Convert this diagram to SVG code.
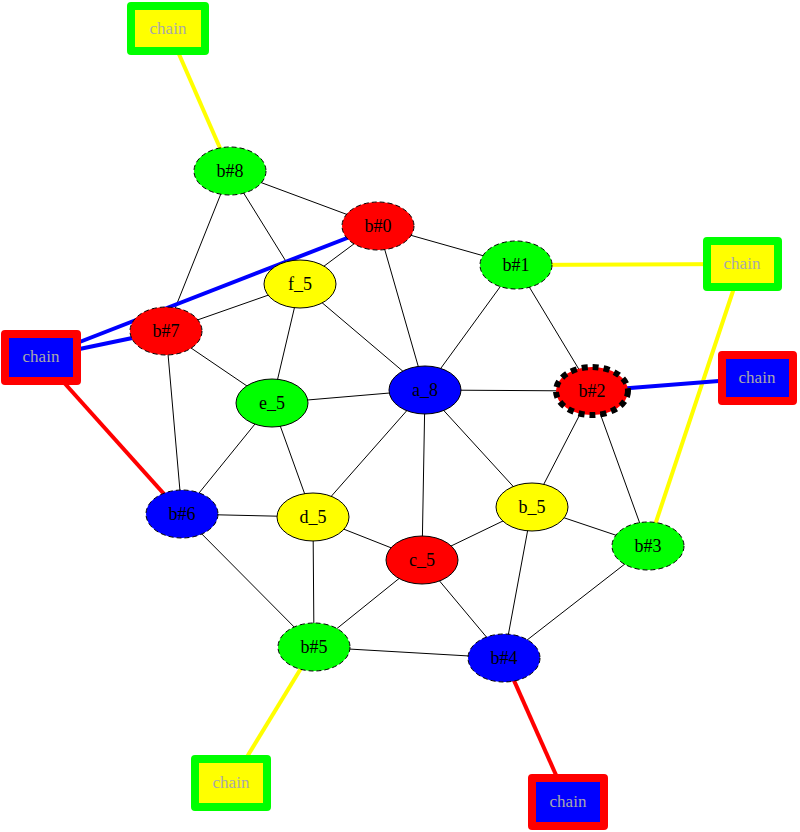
<svg xmlns="http://www.w3.org/2000/svg" width="800" height="832" viewBox="0 0 800 832">
<style>
.e{stroke:#000;stroke-width:1;fill:none}
.y{stroke:#ffff00;stroke-width:4;fill:none}
.b{stroke:#0000ff;stroke-width:4;fill:none}
.r{stroke:#ff0000;stroke-width:4;fill:none}
.n{stroke:#000;stroke-width:1}
.d{stroke-dasharray:5,3}
.t{font-family:"Liberation Serif","Times New Roman",serif;font-size:18px;fill:#000;text-anchor:middle}
.ct{font-family:"Liberation Serif","Times New Roman",serif;font-size:17px;fill:#a9a9a9;text-anchor:middle}
.cb{stroke-width:8;stroke-linejoin:round}
</style>
<rect width="800" height="832" fill="#fff"/>
<g id="connectors">
<line class="e" x1="230" y1="171" x2="378" y2="226"/>
<line class="e" x1="230" y1="171" x2="300" y2="284"/>
<line class="e" x1="230" y1="171" x2="166" y2="331"/>
<line class="e" x1="378" y1="226" x2="300" y2="284"/>
<line class="e" x1="378" y1="226" x2="425" y2="390"/>
<line class="e" x1="378" y1="226" x2="516" y2="265"/>
<line class="e" x1="516" y1="265" x2="425" y2="390"/>
<line class="e" x1="516" y1="265" x2="592" y2="391"/>
<line class="e" x1="300" y1="284" x2="166" y2="331"/>
<line class="e" x1="300" y1="284" x2="272" y2="403"/>
<line class="e" x1="300" y1="284" x2="425" y2="390"/>
<line class="e" x1="166" y1="331" x2="272" y2="403"/>
<line class="e" x1="166" y1="331" x2="182" y2="514"/>
<line class="e" x1="272" y1="403" x2="425" y2="390"/>
<line class="e" x1="272" y1="403" x2="182" y2="514"/>
<line class="e" x1="272" y1="403" x2="313" y2="517"/>
<line class="e" x1="425" y1="390" x2="592" y2="391"/>
<line class="e" x1="425" y1="390" x2="313" y2="517"/>
<line class="e" x1="425" y1="390" x2="422" y2="560"/>
<line class="e" x1="425" y1="390" x2="532" y2="507"/>
<line class="e" x1="592" y1="391" x2="532" y2="507"/>
<line class="e" x1="592" y1="391" x2="648" y2="546"/>
<line class="e" x1="182" y1="514" x2="313" y2="517"/>
<line class="e" x1="182" y1="514" x2="314" y2="647"/>
<line class="e" x1="313" y1="517" x2="422" y2="560"/>
<line class="e" x1="313" y1="517" x2="314" y2="647"/>
<line class="e" x1="422" y1="560" x2="532" y2="507"/>
<line class="e" x1="422" y1="560" x2="314" y2="647"/>
<line class="e" x1="422" y1="560" x2="504" y2="658"/>
<line class="e" x1="532" y1="507" x2="648" y2="546"/>
<line class="e" x1="532" y1="507" x2="504" y2="658"/>
<line class="e" x1="648" y1="546" x2="504" y2="658"/>
<line class="e" x1="314" y1="647" x2="504" y2="658"/>
<line class="y" x1="168" y1="29" x2="230" y2="171"/>
<line class="y" x1="516" y1="265" x2="742" y2="264"/>
<line class="y" x1="742" y1="264" x2="648" y2="546"/>
<line class="y" x1="314" y1="647" x2="231" y2="783"/>
<line class="b" x1="41" y1="357" x2="378" y2="226"/>
<line class="b" x1="41" y1="357" x2="166" y2="331"/>
<line class="b" x1="592" y1="391" x2="757" y2="378"/>
<line class="r" x1="41" y1="357" x2="182" y2="514"/>
<line class="r" x1="504" y1="658" x2="568" y2="802"/>
</g>
<g id="chain1"><rect class="cb" x="131" y="6" width="74" height="45" fill="#ffff00" stroke="#00ff00"/><text class="ct" x="168" y="34">chain</text></g>
<g id="chain2"><rect class="cb" x="707" y="241" width="71" height="46" fill="#ffff00" stroke="#00ff00"/><text class="ct" x="742" y="269">chain</text></g>
<g id="chain3"><rect class="cb" x="5" y="334" width="72" height="47" fill="#0000ff" stroke="#ff0000"/><text class="ct" x="41" y="362">chain</text></g>
<g id="chain4"><rect class="cb" x="722" y="355" width="71" height="46" fill="#0000ff" stroke="#ff0000"/><text class="ct" x="757" y="383">chain</text></g>
<g id="chain5"><rect class="cb" x="195" y="759" width="72" height="48" fill="#ffff00" stroke="#00ff00"/><text class="ct" x="231" y="788">chain</text></g>
<g id="chain6"><rect class="cb" x="532" y="778" width="72" height="48" fill="#0000ff" stroke="#ff0000"/><text class="ct" x="568" y="807">chain</text></g>
<g id="b8"><ellipse class="n d" cx="230" cy="171" rx="36" ry="24" fill="#00ff00"/><text class="t" x="230" y="177">b#8</text></g>
<g id="b0"><ellipse class="n d" cx="378" cy="226" rx="36" ry="24" fill="#ff0000"/><text class="t" x="378" y="232">b#0</text></g>
<g id="b1"><ellipse class="n d" cx="516" cy="265" rx="36" ry="24" fill="#00ff00"/><text class="t" x="516" y="271">b#1</text></g>
<g id="f5"><ellipse class="n" cx="300" cy="284" rx="36" ry="24" fill="#ffff00"/><text class="t" x="300" y="290">f_5</text></g>
<g id="b7"><ellipse class="n d" cx="166" cy="331" rx="36" ry="24" fill="#ff0000"/><text class="t" x="166" y="337">b#7</text></g>
<g id="a8"><ellipse class="n" cx="425" cy="390" rx="36" ry="24" fill="#0000ff"/><text class="t" x="425" y="396">a_8</text></g>
<g id="b2"><ellipse cx="592" cy="391" rx="36" ry="24" fill="#ff0000" stroke="#000" stroke-width="6" stroke-dasharray="6,5"/><text class="t" x="592" y="397">b#2</text></g>
<g id="e5"><ellipse class="n" cx="272" cy="403" rx="36" ry="24" fill="#00ff00"/><text class="t" x="272" y="409">e_5</text></g>
<g id="b6"><ellipse class="n d" cx="182" cy="514" rx="36" ry="24" fill="#0000ff"/><text class="t" x="182" y="520">b#6</text></g>
<g id="d5"><ellipse class="n" cx="313" cy="517" rx="36" ry="24" fill="#ffff00"/><text class="t" x="313" y="523">d_5</text></g>
<g id="b5n"><ellipse class="n" cx="532" cy="507" rx="36" ry="24" fill="#ffff00"/><text class="t" x="532" y="513">b_5</text></g>
<g id="c5"><ellipse class="n" cx="422" cy="560" rx="36" ry="24" fill="#ff0000"/><text class="t" x="422" y="566">c_5</text></g>
<g id="b3"><ellipse class="n d" cx="648" cy="546" rx="36" ry="24" fill="#00ff00"/><text class="t" x="648" y="552">b#3</text></g>
<g id="b5"><ellipse class="n d" cx="314" cy="647" rx="36" ry="24" fill="#00ff00"/><text class="t" x="314" y="653">b#5</text></g>
<g id="b4"><ellipse class="n d" cx="504" cy="658" rx="36" ry="24" fill="#0000ff"/><text class="t" x="504" y="664">b#4</text></g>
</svg>
